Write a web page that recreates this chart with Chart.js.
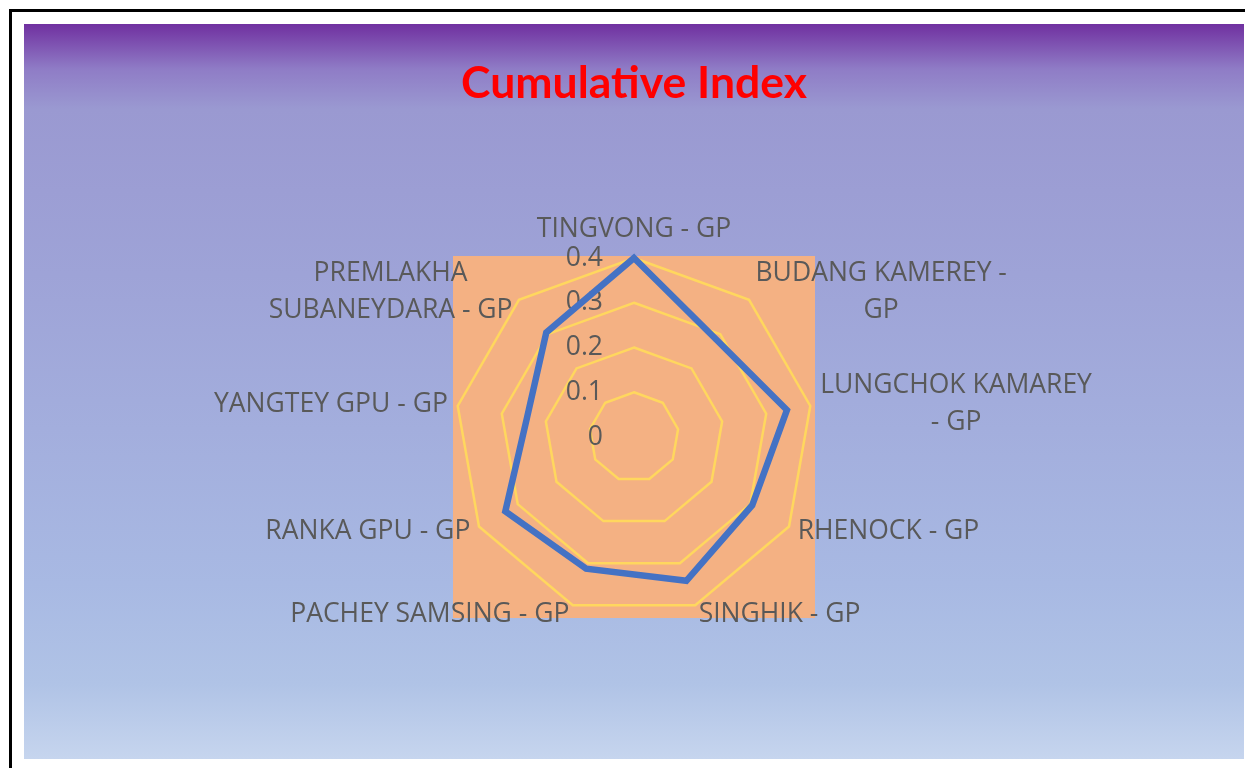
<!DOCTYPE html>
<html>
<head>
<meta charset="utf-8">
<script src="https://cdn.jsdelivr.net/npm/chart.js"></script>
<style>
  body { margin: 0; background: #fff; width: 1245px; height: 768px; overflow: hidden; position: relative; }
  #frame { position: absolute; left: 9px; top: 9px; width: 1300px; height: 800px;
    border-left: 3px solid #000; border-top: 3px solid #000; }
  #box { position: absolute; left: 24px; top: 24px; width: 1220px; height: 735px;
    background: linear-gradient(#7030a0 0px, #8f7cc6 45px, #9a99d1 85px, #9ea3d7 250px, #a8b9e3 560px, #b0c3e6 660px, #c6d5ee 735px); }
  canvas { display: block; }
</style>
</head>
<body>
<div id="frame"></div>
<div id="box"><canvas id="radar" width="1220" height="735"></canvas></div>
<script>
const categories = [
  ["TINGVONG - GP"],
  ["BUDANG KAMEREY -", "GP"],
  ["LUNGCHOK KAMAREY", "- GP"],
  ["RHENOCK - GP"],
  ["SINGHIK - GP"],
  ["PACHEY SAMSING - GP"],
  ["RANKA GPU - GP"],
  ["YANGTEY GPU - GP"],
  ["PREMLAKHA", "SUBANEYDARA - GP"]
];
const cumulativeIndex = [0.4, 0.285, 0.347, 0.305, 0.342, 0.313, 0.332, 0.243, 0.305];
const scaleMax = 0.4;
const scaleStep = 0.1;

const textColor = "#595959";
const labelFont = "26.5px 'Open Sans'";

// orange plot area behind the web
const plotArea = {
  id: "plotArea",
  beforeDraw(chart) {
    const r = chart.scales.r;
    const ctx = chart.ctx;
    const s = r.drawingArea + 2;
    ctx.save();
    ctx.fillStyle = "#f4b183";
    ctx.fillRect(r.xCenter - s, r.yCenter - s, s * 2, s * 2);
    ctx.restore();
  }
};

// excel style tick + category labels
const excelLabels = {
  id: "excelLabels",
  beforeDatasetsDraw(chart) {
    const r = chart.scales.r;
    const ctx = chart.ctx;
    ctx.save();
    ctx.font = labelFont;
    ctx.fillStyle = textColor;
    ctx.textBaseline = "middle";

    ctx.textAlign = "right";
    r.ticks.forEach((t) => {
      ctx.fillText(t.label, r.xCenter - 31, r.yCenter - r.getDistanceFromCenterForValue(t.value));
    });

    const lh = 37;
    chart.data.labels.forEach((lines, i) => {
      const a = r.getIndexAngle(i);
      const p = r.getPointPosition(i, r.drawingArea + 10);
      const w = Math.max(...lines.map((l) => ctx.measureText(l).width));
      const h = lines.length * lh;
      const sin = Math.sin(a), cos = Math.cos(a);
      let cx = p.x;
      if (sin > 0.01) cx = p.x + w / 2;
      else if (sin < -0.01) cx = p.x - w / 2;
      let top = p.y - h / 2;
      if (cos > 0.99) top = p.y - h;
      else if (cos < -0.99) top = p.y;
      ctx.textAlign = "center";
      lines.forEach((l, k) => ctx.fillText(l, cx, top + lh / 2 + k * lh));
    });
    ctx.restore();
  }
};

new Chart(document.getElementById("radar"), {
  type: "radar",
  data: {
    labels: categories,
    datasets: [
      {
        label: "Cumulative Index",
        data: cumulativeIndex,
        fill: false,
        borderColor: "#4472c4",
        borderWidth: 6.5,
        borderJoinStyle: "miter",
        pointRadius: 0,
        tension: 0
      }
    ]
  },
  options: {
    responsive: false,
    animation: false,
    devicePixelRatio: 1,
    layout: { padding: { top: 0, bottom: 143, left: 410, right: 410 } },
    plugins: {
      legend: { display: false },
      tooltip: { enabled: false },
      title: {
        display: true,
        text: "Cumulative Index",
        color: "#ff0000",
        font: { family: "Lato", size: 44.5, weight: "bold", lineHeight: "50px" },
        padding: { top: 35, bottom: 149 }
      }
    },
    scales: {
      r: {
        min: 0,
        max: scaleMax,
        ticks: { stepSize: scaleStep, display: false },
        grid: { color: "#ffd75e", lineWidth: 2.5 },
        angleLines: { display: false },
        pointLabels: { display: false }
      }
    }
  },
  plugins: [plotArea, excelLabels]
});
</script>
</body>
</html>
